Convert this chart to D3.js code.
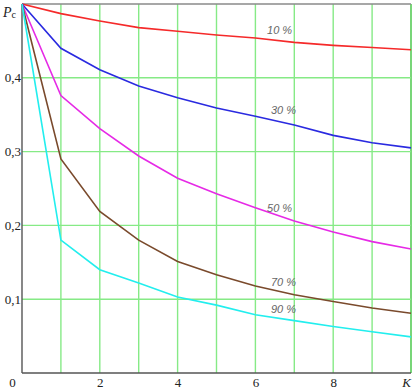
<!DOCTYPE html>
<html>
<head>
<meta charset="utf-8">
<script src="https://cdn.jsdelivr.net/npm/d3@7"></script>
<style>
  body { margin: 0; background: #fff; }
  svg { display: block; }
  .tick text { font-family: "Liberation Serif", "DejaVu Serif", serif; font-size: 13px; fill: #222; }
  .lbl { font-family: "Liberation Sans", Arial, sans-serif; font-style: italic; font-size: 11px; fill: #666; }
</style>
</head>
<body>
<div id="chart"></div>
<script>
// data
var kValues = [0, 1, 2, 3, 4, 5, 6, 7, 8, 9, 10];
var p10 = [0.5, 0.487, 0.477, 0.468, 0.463, 0.458, 0.454, 0.448, 0.444, 0.441, 0.438];
var p30 = [0.5, 0.440, 0.411, 0.389, 0.373, 0.359, 0.348, 0.336, 0.322, 0.312, 0.305];
var p50 = [0.5, 0.376, 0.331, 0.294, 0.264, 0.243, 0.224, 0.206, 0.191, 0.178, 0.168];
var p70 = [0.5, 0.290, 0.219, 0.180, 0.151, 0.133, 0.118, 0.106, 0.097, 0.088, 0.081];
var p90 = [0.5, 0.180, 0.140, 0.122, 0.103, 0.092, 0.079, 0.071, 0.063, 0.056, 0.049];
var seriesNames = ["10 %", "30 %", "50 %", "70 %", "90 %"];
var xTickLabels = ["0", "2", "4", "6", "8", "K"];
var yTickLabels = ["0,1", "0,2", "0,3", "0,4"];

var colors = ["#f52a2a", "#2a2ae0", "#e62ae6", "#7a4a2c", "#22eeee"];
var labelPos = [[6.3, 0.459], [6.4, 0.351], [6.3, 0.218], [6.4, 0.118], [6.4, 0.081]];

var w = 416, h = 390;
var mLeft = 22, mRight = 411, mTop = 4, mBottom = 373;

var svg = d3.select("#chart").append("svg")
  .attr("width", w)
  .attr("height", h);

var xs = d3.scaleLinear().domain([0, 10]).range([mLeft, mRight]);
var ys = d3.scaleLinear().domain([0, 0.5]).range([mBottom, mTop]);

// grid
svg.append("g").selectAll("line")
  .data(d3.range(1, 11))
  .enter().append("line")
  .attr("x1", function(d){ return xs(d); })
  .attr("x2", function(d){ return xs(d); })
  .attr("y1", mTop).attr("y2", mBottom)
  .attr("stroke", function(d){ return d === 10 ? "#3fc43f" : "#86ea86"; })
  .attr("stroke-width", 1.4);

svg.append("g").selectAll("line")
  .data([0.1, 0.2, 0.3, 0.4])
  .enter().append("line")
  .attr("x1", mLeft).attr("x2", mRight)
  .attr("y1", function(d){ return ys(d); })
  .attr("y2", function(d){ return ys(d); })
  .attr("stroke", "#86ea86")
  .attr("stroke-width", 1.4);

// frame
svg.append("line").attr("x1", mLeft).attr("x2", mRight).attr("y1", mTop).attr("y2", mTop)
  .attr("stroke", "#8a8a8a").attr("stroke-width", 1.4);
svg.append("line").attr("x1", mLeft).attr("x2", mLeft).attr("y1", mTop).attr("y2", mBottom)
  .attr("stroke", "#555").attr("stroke-width", 1.4);
svg.append("line").attr("x1", mLeft).attr("x2", mRight).attr("y1", mBottom).attr("y2", mBottom)
  .attr("stroke", "#555").attr("stroke-width", 1.4);

// axes (labels only)
var xAxis = svg.append("g")
  .attr("transform", "translate(0," + mBottom + ")")
  .call(d3.axisBottom(xs).tickValues([0, 2, 4, 6, 8, 10]).tickSize(0).tickPadding(5)
    .tickFormat(function(d, i){ return xTickLabels[i]; }));
xAxis.select(".domain").remove();
xAxis.selectAll("text").filter(function(d){ return d === 0; })
  .attr("x", -10);
xAxis.selectAll("text").filter(function(d){ return d === 10; })
  .attr("x", -5).style("font-style", "italic");

var yAxis = svg.append("g")
  .attr("transform", "translate(" + mLeft + ",0)")
  .call(d3.axisLeft(ys).tickValues([0.1, 0.2, 0.3, 0.4]).tickSize(0).tickPadding(1)
    .tickFormat(function(d, i){ return yTickLabels[i]; }));
yAxis.select(".domain").remove();

// P_c title
var pc = svg.append("text")
  .attr("x", 3).attr("y", 17)
  .style("font-family", "Liberation Serif, serif")
  .style("font-size", "14px")
  .style("font-style", "italic")
  .attr("fill", "#222");
pc.append("tspan").text("P");
pc.append("tspan").attr("dy", 1).style("font-size", "10px").style("font-style", "normal").text("c");

// curves
var allSeries = [p10, p30, p50, p70, p90];
var line = d3.line()
  .x(function(d, i){ return xs(kValues[i]); })
  .y(function(d){ return ys(d); });

svg.append("g").selectAll("path")
  .data(allSeries)
  .enter().append("path")
  .attr("d", line)
  .attr("fill", "none")
  .attr("stroke", function(d, i){ return colors[i]; })
  .attr("stroke-width", 1.6);

svg.append("g").selectAll("text")
  .data(seriesNames)
  .enter().append("text")
  .attr("class", "lbl")
  .attr("x", function(d, i){ return xs(labelPos[i][0]); })
  .attr("y", function(d, i){ return ys(labelPos[i][1]); })
  .text(function(d){ return d; });
</script>
</body>
</html>
